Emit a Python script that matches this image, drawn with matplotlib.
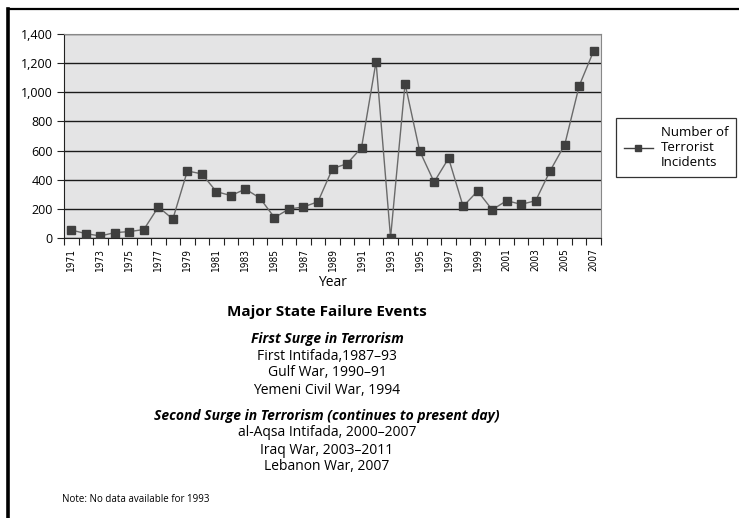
import matplotlib
matplotlib.use("Agg")
import matplotlib.pyplot as plt
from matplotlib.lines import Line2D
from matplotlib.ticker import FuncFormatter, FixedLocator, NullFormatter

plt.rcParams['font.family'] = ['Open Sans', 'DejaVu Sans']

# Annual counts of terrorist incidents
years = list(range(1971, 2008))
incidents = [55, 30, 14, 37, 44, 58, 213, 130, 460, 440,
             318, 291, 336, 274, 140, 199, 213, 249, 476, 510,
             620, 1210, 2, 1059, 599, 384, 547, 217, 322, 194,
             256, 231, 256, 462, 640, 1045, 1285]
series_label = "Number of\nTerrorist\nIncidents"
y_ticks = [0, 200, 400, 600, 800, 1000, 1200, 1400]

events_title = "Major State Failure Events"
first_head = "First Surge in Terrorism"
first_events = ["First Intifada,1987–93", "Gulf War, 1990–91", "Yemeni Civil War, 1994"]
second_head = "Second Surge in Terrorism (continues to present day)"
second_events = ["al-Aqsa Intifada, 2000–2007", "Iraq War, 2003–2011", "Lebanon War, 2007"]
note = "Note: No data available for 1993"

W, H = 739, 518
fig = plt.figure(figsize=(W / 100, H / 100), dpi=100)

def fx(px):
    return px / W

def fy(py):
    return 1 - py / H

# outer frame (top and left)
fig.add_artist(Line2D([fx(8), 1], [fy(9), fy(9)], color='black', lw=1.6))
fig.add_artist(Line2D([fx(8), fx(8)], [fy(9), 0], color='black', lw=2.6))

left, right, top, bottom = 64, 601, 34, 238
ax = fig.add_axes([fx(left), fy(bottom), fx(right - left), (bottom - top) / H])
ax.set_facecolor('#e4e4e5')

x = list(range(len(years)))
ax.plot(x, incidents, color='#6a6a6a', lw=1.0, marker='s', markersize=5.2,
        markerfacecolor='#3f3f3f', markeredgecolor='#3f3f3f', zorder=3,
        label=series_label)

ax.set_xlim(-0.5, len(years) - 0.5)
ax.set_ylim(0, 1400)
ax.set_yticks(y_ticks)
ax.yaxis.set_major_formatter(FuncFormatter(lambda v, p: f"{int(v):,}"))
ax.grid(axis='y', color='#1a1a1a', lw=1.0)
ax.set_axisbelow(True)

# category boundaries as ticks, year labels every other year
ax.xaxis.set_major_locator(FixedLocator([i - 0.5 for i in range(len(years) + 1)]))
ax.xaxis.set_major_formatter(NullFormatter())
ax.xaxis.set_minor_locator(FixedLocator(x[::2]))
ax.xaxis.set_minor_formatter(FuncFormatter(lambda v, p: str(years[int(round(v))])))
ax.tick_params(axis='x', which='major', length=5, width=0.8, color='#222222', direction='out')
ax.tick_params(axis='x', which='minor', length=0, labelsize=7.5, labelrotation=90, pad=7)
ax.tick_params(axis='y', length=5, width=0.8, color='#222222', labelsize=9, pad=3)
for lbl in ax.get_xticklabels(minor=True):
    lbl.set_family(['DejaVu Sans'])
    lbl.set_fontstretch('condensed')
    lbl.set_fontsize(7.2)

for s in ['top', 'right']:
    ax.spines[s].set_color('#888888')
    ax.spines[s].set_linewidth(0.8)
ax.spines['left'].set_color('#222222')
ax.spines['bottom'].set_color('#222222')

ax.set_xlabel("Year", fontsize=10, labelpad=3)

# legend box
leg = fig.legend(handles=[Line2D([0], [0], color='#3f3f3f', lw=1.0, marker='s', markersize=5,
                                 markerfacecolor='#3f3f3f')],
                 labels=[series_label], loc='upper left',
                 bbox_to_anchor=(fx(616), fy(118)), borderaxespad=0, frameon=True, fontsize=9.5,
                 handlelength=2.2, handletextpad=0.6, borderpad=0.6, labelspacing=0.2,
                 fancybox=False, edgecolor='black')
leg.get_frame().set_linewidth(0.9)
for t in leg.get_texts():
    t.set_linespacing(1.2)

cx = fx(327)
fig.text(cx, fy(312), events_title, ha='center', va='center', fontsize=11, fontweight='bold')
fig.text(cx, fy(339), first_head, ha='center', va='center', fontsize=10,
         fontweight='bold', style='italic')
for i, t in enumerate(first_events):
    fig.text(cx, fy(356 + 17 * i), t, ha='center', va='center', fontsize=10)
fig.text(cx, fy(416), second_head, ha='center', va='center', fontsize=10,
         fontweight='bold', style='italic')
for i, t in enumerate(second_events):
    fig.text(cx, fy(433 + 17 * i), t, ha='center', va='center', fontsize=10)

fig.text(fx(62), fy(500), note, ha='left', va='center', fontsize=7)

fig.savefig("out.png", dpi=100)
